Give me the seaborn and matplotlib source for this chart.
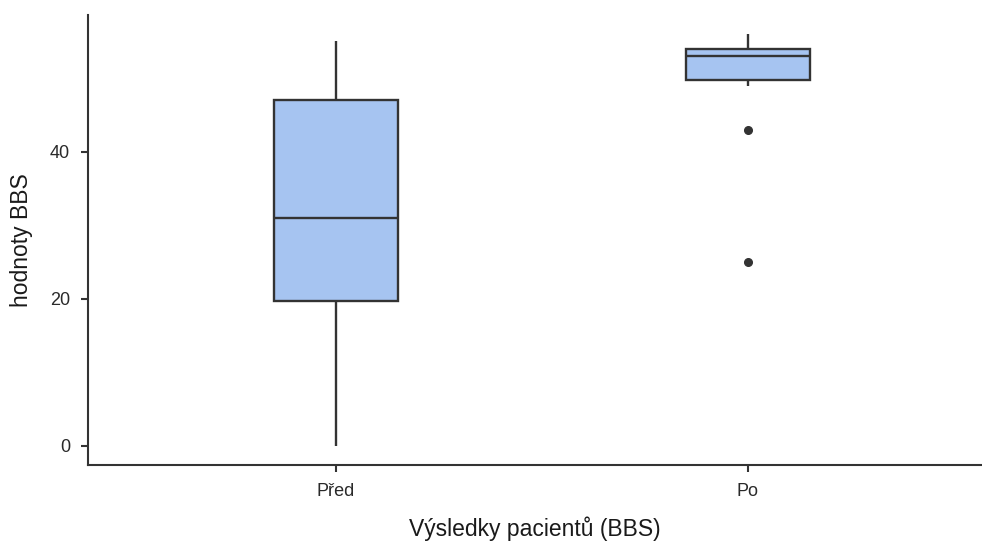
import matplotlib
matplotlib.use("Agg")
import matplotlib.pyplot as plt
import pandas as pd
import seaborn as sns

sns.set_theme(style='ticks')
plt.rcParams['font.family'] = ['Liberation Sans', 'DejaVu Sans']

# BBS scores before / after
groups = ['Před', 'Po']
pred_values = [0, 12, 19, 20, 25, 30, 32, 40, 47, 47, 52, 55]
po_values = [25, 43, 49, 50, 52, 53, 53, 54, 54, 54, 55, 56]

df = pd.DataFrame({
    'group': [groups[0]] * len(pred_values) + [groups[1]] * len(po_values),
    'bbs': pred_values + po_values,
})

fig = plt.figure(figsize=(9.82, 5.42), dpi=100)
ax = fig.add_axes([88 / 982, 1 - 465 / 542, 1 - 88 / 982, (465 - 15) / 542])

sns.boxplot(data=df, x='group', y='bbs', order=groups, ax=ax,
            color='#a6c4f1', width=0.3, linewidth=1.7, linecolor='#333333',
            showcaps=False, saturation=1,
            flierprops=dict(marker='o', markerfacecolor='#333333',
                            markeredgecolor='#333333', markersize=5.5))

ax.set_xlim(-0.602, 1.568)
ax.set_ylim(-2.6, 58.6)
ax.set_yticks([0, 20, 40])
ax.set_xlabel('Výsledky pacientů (BBS)', fontsize=16.5, color='#1a1a1a', labelpad=12)
ax.set_ylabel('hodnoty BBS', fontsize=16.5, color='#1a1a1a', labelpad=12)
ax.tick_params(axis='both', labelsize=13, colors='#333333', labelcolor='#2a2a2a',
               length=5, width=1.5, pad=8)
for side in ['left', 'bottom']:
    ax.spines[side].set_color('#333333')
    ax.spines[side].set_linewidth(1.5)
sns.despine(ax=ax)

fig.savefig('out.png', dpi=100)
